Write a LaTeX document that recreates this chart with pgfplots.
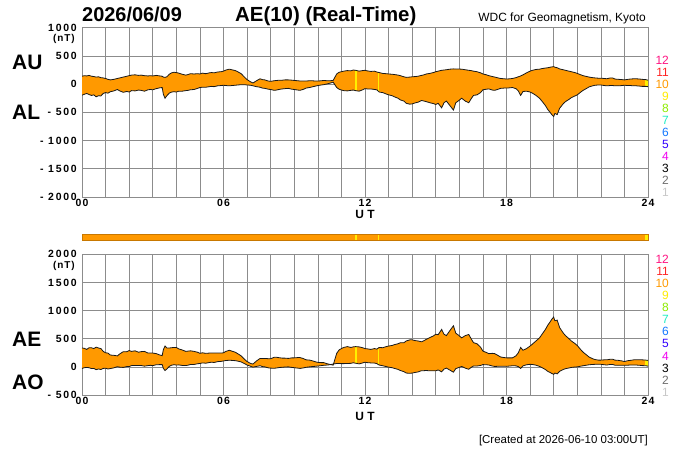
\documentclass[border=0pt]{standalone}
\usepackage{fontspec}
\setmainfont{Liberation Sans}
\newfontfamily\ytf[LetterSpace=17]{Liberation Sans}
\newfontfamily\xtf[LetterSpace=10]{Liberation Sans}
\usepackage{pgfplots}
\usepackage{pgfplotstable}
\pgfplotsset{compat=1.18}
\usepgfplotslibrary{fillbetween}

\definecolor{aeorange}{RGB}{255,153,0}
\definecolor{aeyellow}{RGB}{255,240,0}
\definecolor{bardark}{RGB}{200,120,0}
\definecolor{gridgray}{RGB}{140,140,140}
\definecolor{cA}{RGB}{255,20,130}
\definecolor{cB}{RGB}{255,35,35}
\definecolor{cC}{RGB}{255,153,0}
\definecolor{cD}{RGB}{255,235,0}
\definecolor{cE}{RGB}{140,235,0}
\definecolor{cF}{RGB}{30,235,195}
\definecolor{cG}{RGB}{20,120,255}
\definecolor{cH}{RGB}{50,0,255}
\definecolor{cI}{RGB}{240,0,240}
\definecolor{cJ}{RGB}{0,0,0}
\definecolor{cK}{RGB}{110,110,110}
\definecolor{cL}{RGB}{200,200,200}

\pgfplotstableread{
t AU AL
0.0 140 -195
0.1 150 -180
0.2 145 -165
0.3 155 -185
0.4 140 -200
0.5 135 -190
0.6 125 -225
0.7 130 -205
0.8 115 -210
0.9 110 -165
1.0 100 -150
1.1 85 -160
1.2 75 -135
1.35 85 -120
1.5 100 -95
1.6 110 -120
1.75 125 -145
1.9 140 -130
2.0 150 -140
2.1 160 -115
2.25 165 -120
2.4 155 -105
2.5 160 -110
2.65 150 -125
2.8 145 -100
2.9 150 -95
3.0 145 -100
3.15 155 -80
3.3 145 -65
3.4 140 -60
3.45 125 -180
3.52 120 -250
3.6 130 -205
3.7 175 -160
3.8 200 -140
3.9 210 -135
4.0 205 -140
4.1 195 -125
4.25 175 -125
4.4 160 -115
4.5 170 -110
4.6 185 -100
4.75 180 -95
4.9 185 -75
5.0 180 -60
5.1 195 -55
5.25 185 -55
5.4 200 -45
5.5 205 -40
5.6 200 -45
5.75 215 -30
5.9 220 -25
6.0 230 -20
6.1 250 -25
6.25 265 -30
6.35 255 -25
6.5 240 -20
6.6 220 -15
6.75 185 -10
6.9 120 -10
7.0 80 -15
7.15 40 -20
7.25 20 -30
7.4 60 -45
7.55 95 -55
7.65 80 -70
7.75 75 -75
7.9 55 -90
8.0 50 -95
8.15 60 -110
8.25 65 -105
8.4 70 -90
8.5 70 -85
8.6 75 -80
8.75 75 -75
8.9 70 -90
9.0 65 -95
9.15 60 -105
9.25 55 -110
9.4 55 -90
9.5 55 -70
9.65 60 -60
9.75 60 -50
9.9 55 -35
10.0 55 -25
10.15 60 -15
10.25 65 -10
10.4 60 5
10.5 60 15
10.65 65 35
10.72 120 -10
10.8 180 -60
10.9 210 -90
11.0 220 -105
11.1 230 -115
11.25 240 -120
11.4 235 -110
11.5 250 -105
11.6 245 -115
11.75 230 -125
11.9 240 -100
12.0 245 -80
12.1 235 -85
12.25 225 -85
12.4 230 -95
12.5 215 -100
12.6 205 -140
12.75 190 -150
12.9 185 -175
13.0 180 -190
13.15 175 -205
13.25 170 -225
13.4 160 -250
13.5 150 -280
13.65 130 -300
13.75 120 -340
13.9 125 -355
14.0 130 -350
14.15 135 -330
14.25 140 -320
14.4 155 -290
14.5 165 -300
14.6 180 -310
14.75 190 -330
14.9 205 -345
15.0 220 -360
15.1 230 -340
15.25 245 -420
15.35 250 -330
15.45 255 -300
15.6 265 -380
15.75 270 -460
15.85 268 -330
15.95 268 -300
16.1 265 -250
16.25 255 -300
16.4 245 -330
16.5 240 -260
16.6 230 -200
16.75 220 -190
16.9 200 -150
17.0 180 -100
17.15 165 -90
17.25 150 -85
17.4 135 -105
17.5 125 -110
17.65 110 -90
17.75 100 -75
17.9 95 -70
18.0 90 -70
18.15 95 -65
18.25 100 -60
18.4 115 -80
18.5 130 -120
18.6 145 -200
18.7 165 -130
18.85 200 -125
19.0 230 -140
19.1 245 -160
19.25 260 -200
19.4 265 -250
19.5 275 -300
19.65 285 -380
19.75 290 -450
19.85 300 -500
19.92 305 -540
20.0 310 -575
20.05 300 -520
20.15 290 -540
20.25 270 -430
20.4 255 -350
20.5 245 -310
20.65 230 -270
20.75 220 -240
20.9 205 -210
21.0 190 -190
21.15 165 -140
21.25 150 -110
21.4 135 -75
21.5 125 -50
21.65 115 -30
21.75 110 -20
21.9 105 -15
22.0 105 -15
22.15 100 -25
22.25 95 -30
22.4 110 -25
22.5 110 -25
22.6 90 -30
22.75 85 -30
22.9 80 -25
23.0 75 -20
23.15 85 -25
23.25 90 -25
23.4 95 -30
23.5 95 -30
23.65 90 -35
23.75 85 -40
23.9 80 -40
24.0 70 -45
}\aedata

\pgfplotsset{
  aestyle/.style={
    scale only axis, width=566bp,
    xmin=0, xmax=24,
    xtick={0,6,12,18,24}, xticklabels={00,06,12,18,24},
    minor xtick={1,2,3,4,5,7,8,9,10,11,13,14,15,16,17,19,20,21,22,23},
    grid=both,
    major grid style={gridgray, line width=0.6bp},
    minor grid style={gridgray, line width=0.6bp},
    axis line style={gridgray, line width=0.6bp},
    major tick length=0pt, minor tick length=0pt,
    xticklabel style={font=\xtf\bfseries\fontsize{10.5}{11}\selectfont, inner sep=0pt, anchor=north, yshift=-2bp},
    yticklabel style={font=\ytf\bfseries\fontsize{10.5}{11}\selectfont, inner sep=0pt, anchor=east, xshift=-5bp},
  },
  aeline/.style={black!90, line width=0.8bp},
}

\begin{document}
\begin{tikzpicture}

% top panel AU / AL
\begin{axis}[aestyle, at={(82bp,253bp)}, anchor=south west, height=169.3bp,
  ymin=-2000, ymax=1000, ytick={-2000,-1500,-1000,-500,0,500,1000},
  yticklabels={- 2000,- 1500,- 1000,- 500,0,500,1000}]
  \addplot[draw=none, name path=au] table[x=t, y=AU] {\aedata};
  \addplot[draw=none, name path=al] table[x=t, y=AL] {\aedata};
  \addplot[aeorange] fill between[of=au and al];
  \addplot[aeyellow, line width=1.8bp] coordinates {(11.62,-112) (11.62,243)};
  \addplot[aeyellow, line width=1.8bp] coordinates {(12.57,-115) (12.57,210)};
  \addplot[aeyellow, line width=2.4bp] coordinates {(23.93,-42) (23.93,75)};
  \addplot[aeline] table[x=t, y=AU] {\aedata};
  \addplot[aeline] table[x=t, y=AL] {\aedata};
\end{axis}

% bottom panel AE / AO, with the station bar above it
\begin{axis}[aestyle, at={(82bp,55bp)}, anchor=south west, height=140.7bp,
  ymin=-500, ymax=2000, ytick={-500,0,500,1000,1500,2000},
  yticklabels={- 500,0,500,1000,1500,2000}, clip=false]
  \addplot[fill=aeorange, draw=bardark, line width=0.6bp] coordinates {(0,2254) (24,2254) (24,2355) (0,2355)} -- cycle;
  \addplot[aeyellow, line width=1.8bp] coordinates {(11.62,2262) (11.62,2347)};
  \addplot[aeyellow, line width=1.8bp] coordinates {(12.57,2262) (12.57,2347)};
  \addplot[aeyellow, line width=2.4bp] coordinates {(23.93,2262) (23.93,2347)};
  \addplot[draw=none, name path=ae] table[x=t, y expr=\thisrow{AU}-\thisrow{AL}] {\aedata};
  \addplot[draw=none, name path=ao] table[x=t, y expr=(\thisrow{AU}+\thisrow{AL})/2] {\aedata};
  \addplot[aeorange] fill between[of=ae and ao];
  \addplot[aeyellow, line width=1.8bp] coordinates {(11.62,65) (11.62,357)};
  \addplot[aeyellow, line width=1.8bp] coordinates {(12.57,35) (12.57,320)};
  \addplot[aeyellow, line width=2.4bp] coordinates {(23.93,18) (23.93,118)};
  \addplot[aeline] table[x=t, y expr=\thisrow{AU}-\thisrow{AL}] {\aedata};
  \addplot[aeline] table[x=t, y expr=(\thisrow{AU}+\thisrow{AL})/2] {\aedata};
\end{axis}

% titles
\node[anchor=base west, inner sep=0pt, font=\bfseries\fontsize{20}{24}\selectfont] at (82bp,428.3bp) {2026/06/09};
\node[anchor=base west, inner sep=0pt, font=\bfseries\fontsize{20.5}{24}\selectfont] at (235bp,428.3bp) {AE(10) (Real-Time)};
\node[anchor=base east, inner sep=0pt, font=\fontsize{12}{14}\selectfont] at (646bp,428.3bp) {WDC for Geomagnetism, Kyoto};

\node[anchor=base west, inner sep=0pt, font=\bfseries\fontsize{21}{24}\selectfont] at (12bp,380bp) {AU};
\node[anchor=base west, inner sep=0pt, font=\bfseries\fontsize{21}{24}\selectfont] at (12bp,330bp) {AL};
\node[anchor=base west, inner sep=0pt, font=\bfseries\fontsize{21}{24}\selectfont] at (12bp,103.3bp) {AE};
\node[anchor=base west, inner sep=0pt, font=\bfseries\fontsize{21}{24}\selectfont] at (12bp,60bp) {AO};

\node[anchor=east, inner sep=0pt, font=\xtf\bfseries\fontsize{10}{11}\selectfont] at (75bp,410.8bp) {(nT)};
\node[anchor=east, inner sep=0pt, font=\xtf\bfseries\fontsize{10}{11}\selectfont] at (75bp,183.8bp) {(nT)};

\node[anchor=base, inner sep=0pt, font=\bfseries\fontsize{12}{14}\selectfont] at (365bp,231.5bp) {U T};
\node[anchor=base, inner sep=0pt, font=\bfseries\fontsize{12}{14}\selectfont] at (365bp,30bp) {U T};

\node[anchor=base east, inner sep=0pt, font=\fontsize{11.5}{13}\selectfont] at (648bp,6.5bp) {[Created at 2026-06-10 03:00UT]};

% station-count legends
\foreach \n/\c [count=\i from 0] in {12/cA,11/cB,10/cC,9/cD,8/cE,7/cF,6/cG,5/cH,4/cI,3/cJ,2/cK,1/cL} {
  \node[anchor=east, inner sep=0pt, text=\c, font=\fontsize{12}{13}\selectfont] at (669bp,{389.3bp-12bp*\i}) {\n};
  \node[anchor=east, inner sep=0pt, text=\c, font=\fontsize{12}{13}\selectfont] at (669bp,{190.7bp-12.09bp*\i}) {\n};
}

\pgfresetboundingbox
\useasboundingbox (0bp,0bp) rectangle (700bp,450bp);
\end{tikzpicture}
\end{document}
